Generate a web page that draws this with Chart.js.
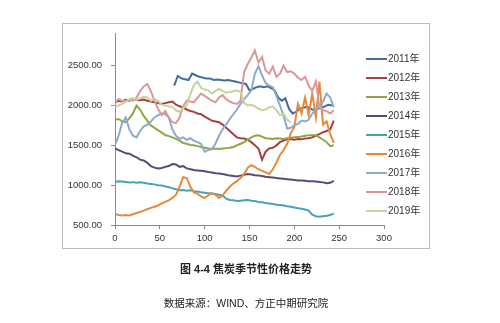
<!DOCTYPE html>
<html>
<head>
<meta charset="utf-8">
<script src="https://cdn.jsdelivr.net/npm/chart.js@4/dist/chart.umd.min.js"></script>
<style>
    html, body { margin: 0; padding: 0; background: #fff; }
    #wrap { position: relative; width: 500px; height: 323px; overflow: hidden; }
    #frame { position: absolute; left: 62px; top: 23px; width: 366px; height: 224px; border: 1px solid #bcbcbc; }
    #c { position: absolute; left: 0; top: 0; }
    .cap { position: absolute; left: 0; width: 492px; text-align: center; color: #222;
           font-family: "Liberation Sans", "Noto Sans CJK SC", sans-serif; }
    #title { top: 260px; font-size: 11px; font-weight: bold; }
    #src { top: 295px; font-size: 10.5px; }
</style>
</head>
<body>
<div id="wrap">
    <div id="frame"></div>
    <canvas id="c" width="500" height="323"></canvas>
    <div class="cap" id="title">图 4-4 焦炭季节性价格走势</div>
    <div class="cap" id="src">数据来源：WIND、方正中期研究院</div>
</div>
<script>
(function () {

    // years shown, one line each; every series sampled every 4 trading days
    const years = ['2011年', '2012年', '2013年', '2014年', '2015年', '2016年', '2017年', '2018年', '2019年'];
    const colors = ['#436c9e', '#a8403f', '#8da844', '#5a4a78', '#44a3b9', '#e6893c', '#8eaacd', '#dc979b', '#c4d49c'];
    const starts = [66, 0, 0, 0, 0, 0, 0, 0, 0];
    const step = 4;

    const y2011 = [2250, 2370, 2340, 2330, 2320, 2400, 2380, 2360, 2350, 2340, 2340, 2320, 2325, 2320, 2315, 2320,
        2310, 2300, 2290, 2280, 2270, 2190, 2210, 2230, 2240, 2230, 2240, 2220, 2190, 2100, 2060, 2090,
        1960, 1900, 1920, 1960, 1970, 1985, 1960, 1940, 1960, 1970, 1990, 2010, 2000];
    const y2012 = [2040, 2060, 2050, 2070, 2060, 2080, 2070, 2065, 2075, 2060, 2050, 2040, 2030, 2020, 2030, 2040,
        2050, 2010, 1990, 1975, 1950, 1930, 1920, 1900, 1890, 1860, 1835, 1810, 1800, 1790, 1760, 1720,
        1680, 1640, 1600, 1590, 1585, 1570, 1540, 1500, 1460, 1320, 1420, 1460, 1470, 1500, 1540, 1560,
        1575, 1580, 1570, 1580, 1575, 1585, 1590, 1600, 1620, 1640, 1665, 1680, 1700, 1810];
    const y2013 = [1820, 1830, 1800, 1790, 1840, 1900, 2000, 1950, 1870, 1810, 1750, 1720, 1690, 1660, 1630, 1615,
        1600, 1580, 1560, 1530, 1520, 1505, 1500, 1490, 1480, 1470, 1460, 1455, 1460, 1455, 1460, 1465,
        1470, 1480, 1500, 1520, 1540, 1570, 1600, 1620, 1625, 1610, 1590, 1585, 1580, 1590, 1585, 1580,
        1590, 1595, 1600, 1605, 1610, 1620, 1625, 1630, 1625, 1600, 1570, 1540, 1490, 1500];
    const y2014 = [1460, 1440, 1420, 1400, 1395, 1370, 1350, 1320, 1310, 1280, 1240, 1220, 1210, 1215, 1230, 1240,
        1265, 1260, 1230, 1240, 1210, 1200, 1190, 1185, 1180, 1175, 1165, 1160, 1150, 1145, 1140, 1130,
        1120, 1115, 1110, 1120, 1130, 1140, 1135, 1125, 1120, 1115, 1105, 1100, 1095, 1090, 1085, 1080,
        1075, 1070, 1065, 1060, 1060, 1055, 1050, 1050, 1045, 1040, 1035, 1025, 1030, 1055];
    const y2015 = [1040, 1050, 1045, 1040, 1035, 1038, 1030, 1035, 1030, 1020, 1015, 1010, 1000, 995, 985, 975,
        960, 950, 935, 940, 930, 935, 925, 920, 910, 905, 900, 895, 890, 880, 870, 830,
        815, 810, 800, 805, 810, 815, 805, 800, 790, 785, 775, 770, 765, 755, 750, 745,
        735, 730, 720, 710, 705, 695, 680, 630, 610, 605, 610, 615, 625, 645];
    const y2016 = [640, 625, 620, 625, 620, 635, 650, 665, 680, 700, 715, 730, 745, 770, 790, 810,
        840, 880, 980, 1100, 1090, 980, 910, 890, 860, 840, 870, 900, 880, 840, 870, 930,
        980, 1020, 1050, 1090, 1140, 1220, 1250, 1230, 1200, 1180, 1160, 1140, 1200, 1280, 1380, 1440,
        1520, 1650, 1730, 2020, 1900, 2100, 1880, 2150, 1850, 2300, 1760, 1800, 1640, 1530];
    const y2017 = [1500, 1620, 1780, 1850, 1700, 1620, 1600, 1680, 1740, 1760, 1800, 1850, 1880, 1900, 1890, 1850,
        1700, 1620, 1580, 1600, 1570, 1590, 1560, 1540, 1520, 1420, 1440, 1450, 1520, 1620, 1700, 1760,
        1830, 1890, 1950, 2020, 2080, 2130, 2190, 2400, 2490, 2380, 2280, 2250, 2230, 2120, 2000, 1870,
        1710, 1720, 1750, 1770, 1810, 1800, 1820, 1900, 1950, 1980, 2050, 2150, 2100, 1980];
    const y2018 = [2040, 2080, 2060, 2050, 2070, 2060, 2100, 2180, 2240, 2270, 2180, 2060, 1960, 1880, 1930, 1850,
        1790, 1780, 1850, 1990, 2060, 2050, 2040, 2100, 2150, 2120, 2090, 2060, 2040, 2100, 2130, 2080,
        2050, 2030, 2020, 2060, 2420, 2520, 2600, 2690, 2540, 2610, 2440, 2400, 2490, 2360, 2400, 2500,
        2420, 2430, 2400, 2350, 2320, 2360, 2250, 2180, 2300, 1980, 1940, 1930, 1900, 1940];
    const y2019 = [1990, 2000, 2020, 2050, 2080, 2090, 2070, 2090, 2110, 2100, 2060, 2080, 2060, 2010, 2000, 1990,
        1980, 1940, 1920, 1970, 2000, 2140, 2260, 2300, 2220, 2200, 2190, 2150, 2180, 2210, 2180, 2160,
        2170, 2180, 2190, 2170, 2030, 2000, 2010, 1990, 1960, 1940, 1950, 1980, 1990, 1940, 1880, 1900,
        1820, 1790];

    const series = [y2011, y2012, y2013, y2014, y2015, y2016, y2017, y2018, y2019];

    const xTicks = [0, 50, 100, 150, 200, 250, 300];
    const yTicks = [500, 1000, 1500, 2000, 2500];

    const font = { family: '"Liberation Sans", "Noto Sans CJK SC", sans-serif', size: 9.5 };

    let datasets = series.map(function (vals, i) {
        return {
            label: years[i],
            data: vals.map(function (v, k) {
                return { x: starts[i] + k * step, y: v };
            }),
            borderColor: colors[i],
            backgroundColor: colors[i],
            borderWidth: 2,
            pointRadius: 0,
            tension: 0,
            order: series.length - i
        };
    });

    // legend on the right, drawn over the empty end of the x range
    const sideLegend = {
        id: 'sideLegend',
        afterDraw: function (chart) {
            const ctx = chart.ctx;
            ctx.save();
            ctx.font = '10px ' + font.family;
            ctx.textBaseline = 'middle';
            ctx.fillStyle = '#333';
            chart.data.datasets.forEach(function (ds, i) {
                const y = 59 + i * 19;
                ctx.strokeStyle = ds.borderColor;
                ctx.lineWidth = 2;
                ctx.beginPath();
                ctx.moveTo(366, y);
                ctx.lineTo(387, y);
                ctx.stroke();
                ctx.fillText(ds.label, 388, y);
            });
            ctx.restore();
        }
    };

    const config = {
        type: 'line',
        data: { datasets: datasets },
        options: {
            animation: false,
            responsive: false,
            layout: {
                padding: { left: 0, top: 33, right: 116, bottom: 78 }
            },
            plugins: {
                legend: { display: false },
                title: { display: false },
                tooltip: { enabled: false }
            },
            scales: {
                x: {
                    type: 'linear',
                    min: 0,
                    max: 300,
                    afterFit: function (s) { s.height = 20; },
                    afterBuildTicks: function (s) {
                        s.ticks = xTicks.map(function (v) { return { value: v }; });
                    },
                    grid: { drawOnChartArea: false, drawTicks: true, tickLength: 4, color: '#8a8a8a' },
                    border: { color: '#8a8a8a', width: 1 },
                    ticks: { font: font, color: '#333', padding: 4, maxRotation: 0 }
                },
                y: {
                    min: 500,
                    max: 2910,
                    afterFit: function (s) { s.width = 115; },
                    afterBuildTicks: function (s) {
                        s.ticks = yTicks.map(function (v) { return { value: v }; });
                    },
                    grid: { drawOnChartArea: false, drawTicks: true, tickLength: 4, color: '#8a8a8a' },
                    border: { color: '#8a8a8a', width: 1 },
                    ticks: {
                        font: font,
                        color: '#333',
                        padding: 9,
                        callback: function (v) { return Number(v).toFixed(2); }
                    }
                }
            }
        },
        plugins: [sideLegend]
    };

    const myChart = new Chart(document.getElementById('c').getContext('2d'), config);

})();
</script>
</body>
</html>
